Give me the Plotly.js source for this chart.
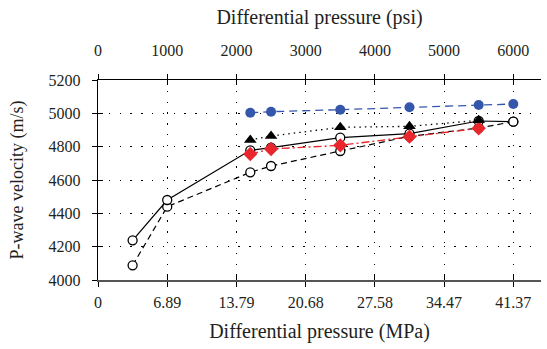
<!DOCTYPE html>
<html>
<head>
<meta charset="utf-8">
<script src="https://cdn.plot.ly/plotly-3.0.1.min.js"></script>
<style>html,body{margin:0;padding:0;background:#fff;} #chart{width:547px;height:349px;}</style>
</head>
<body>
<div id="chart"></div>
<script>
// Data (x in psi)
const tickPsi = [0, 1000, 2000, 3000, 4000, 5000, 6000];
const tickPsiLabels = ["0", "1000", "2000", "3000", "4000", "5000", "6000"];
const tickMPaLabels = ["0", "6.89", "13.79", "20.68", "27.58", "34.47", "41.37"];

const psiAll = [500, 1000, 2200, 2500, 3500, 4500, 5500, 6000];
const solidOpen = [4238, 4480, 4778, 4794, 4854, 4878, 4954, 4950];
const dashedOpen = [4088, 4440, 4646, 4684, 4774, 4862, 4912, 4950];

const psiBlue = [2200, 2500, 3500, 4500, 5500, 6000];
const blueVals = [5004, 5010, 5022, 5036, 5050, 5056];

const psiTri = [2200, 2500, 3500, 4500, 5500];
const triVals = [4840, 4864, 4916, 4922, 4958];

const psiRed = [2200, 2500, 3500, 4500, 5500];
const redVals = [4756, 4786, 4808, 4860, 4910];

const serif = "'Liberation Serif', 'Times New Roman', serif";
const txt = "#231f20";

const traces = [
  {x: psiAll, y: dashedOpen, mode: "lines+markers",
   line: {color: "#000", width: 1.2, dash: "6px,4px"},
   marker: {symbol: "circle", size: 9, color: "#fff", line: {color: "#000", width: 1.3}}},
  {x: psiAll, y: solidOpen, mode: "lines+markers",
   line: {color: "#000", width: 1.2},
   marker: {symbol: "circle", size: 9, color: "#fff", line: {color: "#000", width: 1.3}}},
  {x: psiRed, y: redVals, mode: "lines+markers",
   line: {color: "#e8262b", width: 1.3, dash: "8px,3px,2px,3px"},
   marker: {symbol: "diamond", size: 11, color: "#e8262b", line: {width: 0}}},
  {x: psiTri, y: triVals, mode: "lines+markers",
   line: {color: "#000", width: 1.3, dash: "1.5px,4px"},
   marker: {symbol: "triangle-up", size: 11, color: "#000", line: {width: 0}}},
  {x: psiBlue, y: blueVals, mode: "lines+markers",
   line: {color: "#3557ab", width: 1.3, dash: "8px,5px"},
   marker: {symbol: "circle", size: 10, color: "#3557ab", line: {width: 0}}}
];
traces.forEach(t => { t.showlegend = false; t.hoverinfo = "skip"; });

const XR = [0, 6400];
const tickFont = {family: serif, size: 16, color: txt};
const titleFont = {family: serif, size: 20, color: txt};
const layout = {
  width: 547, height: 349,
  margin: {l: 98, r: 6, t: 80, b: 69},
  paper_bgcolor: "#fff", plot_bgcolor: "#fff",
  font: {family: serif, size: 16, color: txt},
  showlegend: false,
  xaxis: {
    range: XR, tickvals: tickPsi, ticktext: tickMPaLabels, tickfont: tickFont,
    ticks: "outside", ticklen: 5, tickcolor: "#000", tickwidth: 1,
    showline: true, linecolor: "#555", linewidth: 2,
    showgrid: true, gridcolor: "#000", gridwidth: 1, griddash: "1.3px,9.5px",
    zeroline: false, ticklabelstandoff: 2,
    title: {text: "Differential pressure (MPa)", font: titleFont, standoff: 14}
  },
  xaxis2: {
    range: XR, overlaying: "x", side: "top", anchor: "y",
    tickvals: tickPsi, ticktext: tickPsiLabels, tickfont: tickFont,
    ticks: "outside", ticklen: 5, tickcolor: "#000", tickwidth: 1,
    showline: true, linecolor: "#000", linewidth: 1,
    showgrid: false, zeroline: false, ticklabelstandoff: 12,
    title: {text: "Differential pressure (psi)", font: titleFont, standoff: 11}
  },
  xaxis3: {
    range: XR, overlaying: "x", side: "bottom", anchor: "y",
    tickvals: tickPsi, ticks: "inside", ticklen: 5, tickcolor: "#000",
    showticklabels: false, showline: false, showgrid: false, zeroline: false
  },
  xaxis4: {
    range: XR, overlaying: "x", side: "top", anchor: "y",
    tickvals: tickPsi, ticks: "inside", ticklen: 5, tickcolor: "#000",
    showticklabels: false, showline: false, showgrid: false, zeroline: false
  },
  yaxis: {
    range: [4000, 5200], dtick: 200, tick0: 4000, tickfont: tickFont,
    ticks: "outside", ticklen: 5, tickcolor: "#000", tickwidth: 1,
    showline: true, linecolor: "#000", linewidth: 1.2,
    showgrid: true, gridcolor: "#000", gridwidth: 1, griddash: "1.3px,9.5px",
    zeroline: false, ticklabelstandoff: 8,
    title: {text: "P-wave velocity (m/s)", font: {family: serif, size: 18, color: txt}, standoff: 20}
  },
  yaxis2: {
    range: [4000, 5200], dtick: 200, tick0: 4000, overlaying: "y", side: "left", anchor: "x",
    ticks: "inside", ticklen: 5, tickcolor: "#000",
    showticklabels: false, showline: false, showgrid: false, zeroline: false
  }
};

// invisible helper traces so the overlay axes are drawn
const helpers = [
  {x: [], y: [], xaxis: "x2", yaxis: "y"},
  {x: [], y: [], xaxis: "x3", yaxis: "y"},
  {x: [], y: [], xaxis: "x4", yaxis: "y"},
  {x: [], y: [], xaxis: "x", yaxis: "y2"}
].map(t => Object.assign(t, {mode: "markers", showlegend: false, hoverinfo: "skip"}));

Plotly.newPlot("chart", helpers.concat(traces), layout, {staticPlot: true, displayModeBar: false});
</script>
</body>
</html>
